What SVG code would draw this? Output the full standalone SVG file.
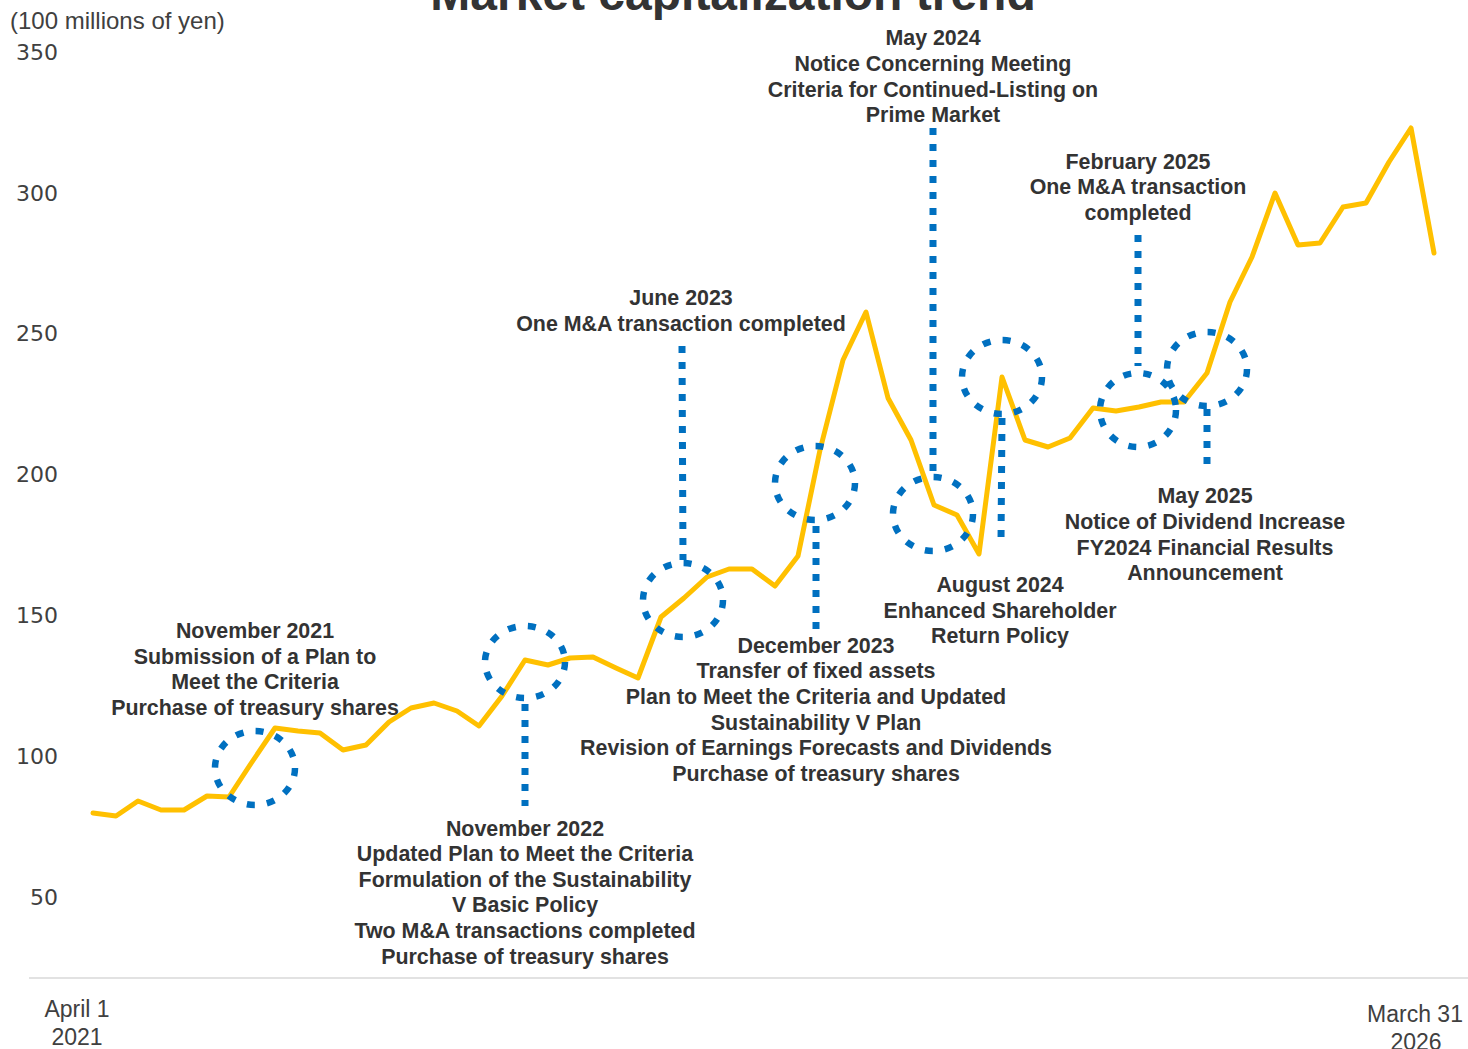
<svg xmlns="http://www.w3.org/2000/svg" width="1468" height="1049" viewBox="0 0 1468 1049">
<style>
.ann{font-family:"Liberation Sans",Arial,sans-serif;font-size:21.4px;font-weight:bold;fill:#333333;text-anchor:middle}
.tick{font-family:"DejaVu Sans",Verdana,sans-serif;font-size:22px;fill:#404040;text-anchor:end}
.axl{font-family:"Liberation Sans",Arial,sans-serif;font-size:23px;fill:#404040;text-anchor:middle}
.circ{fill:none;stroke:#0070C0;stroke-width:6.5;stroke-dasharray:8 12.2}
.lead{fill:none;stroke:#0070C0;stroke-width:7;stroke-dasharray:7 9}
</style>
<rect width="1468" height="1049" fill="#ffffff"/>
<text x="733" y="10" font-family="Liberation Sans, Arial, sans-serif" font-size="48" font-weight="bold" fill="#333333" text-anchor="middle">Market capitalization trend</text>
<g id="axes">
<text x="10" y="29" font-family="Liberation Sans, Arial, sans-serif" font-size="24" fill="#404040">(100 millions of yen)</text>
<text class="tick" x="58" y="60">350</text>
<text class="tick" x="58" y="201">300</text>
<text class="tick" x="58" y="341">250</text>
<text class="tick" x="58" y="482">200</text>
<text class="tick" x="58" y="623">150</text>
<text class="tick" x="58" y="764">100</text>
<text class="tick" x="58" y="905">50</text>
<line x1="29" y1="978" x2="1468" y2="978" stroke="#d9d9d9" stroke-width="1.5"/>
<text class="axl" x="77" y="1017">April 1</text>
<text class="axl" x="77" y="1045">2021</text>
<text class="axl" x="1415" y="1022">March 31</text>
<text class="axl" x="1416" y="1050">2026</text>
</g>
<g id="series">
<polyline fill="none" stroke="#FFC000" stroke-width="5" stroke-linejoin="round" stroke-linecap="round" points="93,813 116,816 138,801 161,810 184,810 207,796 229,797 252,762 275,728 298,731 320,733 343,750 366,745 389,722 411,708 434,703 457,711 479,726 502,696 525,660 548,665 570,658 593,657 616,668 638,678 661,617 684,598 707,577 729,569 752,569 775,586 798,556 820,450 843,360 866,312 888,398 911,440 934,505 957,515 979,554 1002,377 1025,440 1048,447 1070,438 1093,408 1116,411 1139,407 1161,402 1184,402 1207,373 1230,302 1252,257 1275,193 1298,245 1320,243 1343,207 1366,203 1389,162 1411,128 1434,253"/>
</g>
<g id="connectors">
<line class="lead" x1="525" y1="704" x2="525" y2="806"/>
<line class="lead" x1="682" y1="346" x2="683" y2="560"/>
<line class="lead" x1="816" y1="526" x2="816" y2="634"/>
<line class="lead" x1="933" y1="128" x2="933" y2="476"/>
<line class="lead" x1="1002" y1="418" x2="1001" y2="542"/>
<line class="lead" x1="1138" y1="235" x2="1138" y2="366"/>
<line class="lead" x1="1207" y1="409" x2="1207" y2="468"/>
</g>
<g id="circles">
<ellipse id="c-nov2021" class="circ" cx="255" cy="768" rx="40" ry="37"/>
<ellipse id="c-nov2022" class="circ" cx="525" cy="662" rx="40" ry="36"/>
<ellipse id="c-jun2023" class="circ" cx="683" cy="600" rx="40" ry="37"/>
<ellipse id="c-dec2023" class="circ" cx="815" cy="483" rx="40" ry="37"/>
<ellipse id="c-may2024" class="circ" cx="933" cy="514" rx="40" ry="37"/>
<ellipse id="c-aug2024" class="circ" cx="1002" cy="377" rx="40" ry="37"/>
<ellipse id="c-feb2025" class="circ" cx="1138" cy="410" rx="38" ry="37"/>
<ellipse id="c-may2025" class="circ" cx="1207" cy="369" rx="40" ry="37"/>
</g>
<g id="label-nov2021">
<text class="ann" x="255" y="638">November 2021</text>
<text class="ann" x="255" y="664">Submission of a Plan to</text>
<text class="ann" x="255" y="689">Meet the Criteria</text>
<text class="ann" x="255" y="715">Purchase of treasury shares</text>
</g>
<g id="label-nov2022">
<text class="ann" x="525" y="836">November 2022</text>
<text class="ann" x="525" y="861">Updated Plan to Meet the Criteria</text>
<text class="ann" x="525" y="887">Formulation of the Sustainability</text>
<text class="ann" x="525" y="912">V Basic Policy</text>
<text class="ann" x="525" y="938">Two M&amp;A transactions completed</text>
<text class="ann" x="525" y="964">Purchase of treasury shares</text>
</g>
<g id="label-jun2023">
<text class="ann" x="681" y="305">June 2023</text>
<text class="ann" x="681" y="331">One M&amp;A transaction completed</text>
</g>
<g id="label-dec2023">
<text class="ann" x="816" y="653">December 2023</text>
<text class="ann" x="816" y="678">Transfer of fixed assets</text>
<text class="ann" x="816" y="704">Plan to Meet the Criteria and Updated</text>
<text class="ann" x="816" y="730">Sustainability V Plan</text>
<text class="ann" x="816" y="755">Revision of Earnings Forecasts and Dividends</text>
<text class="ann" x="816" y="781">Purchase of treasury shares</text>
</g>
<g id="label-may2024">
<text class="ann" x="933" y="45">May 2024</text>
<text class="ann" x="933" y="71">Notice Concerning Meeting</text>
<text class="ann" x="933" y="97">Criteria for Continued-Listing on</text>
<text class="ann" x="933" y="122">Prime Market</text>
</g>
<g id="label-aug2024">
<text class="ann" x="1000" y="592">August 2024</text>
<text class="ann" x="1000" y="618">Enhanced Shareholder</text>
<text class="ann" x="1000" y="643">Return Policy</text>
</g>
<g id="label-feb2025">
<text class="ann" x="1138" y="169">February 2025</text>
<text class="ann" x="1138" y="194">One M&amp;A transaction</text>
<text class="ann" x="1138" y="220">completed</text>
</g>
<g id="label-may2025">
<text class="ann" x="1205" y="503">May 2025</text>
<text class="ann" x="1205" y="529">Notice of Dividend Increase</text>
<text class="ann" x="1205" y="555">FY2024 Financial Results</text>
<text class="ann" x="1205" y="580">Announcement</text>
</g>
</svg>
